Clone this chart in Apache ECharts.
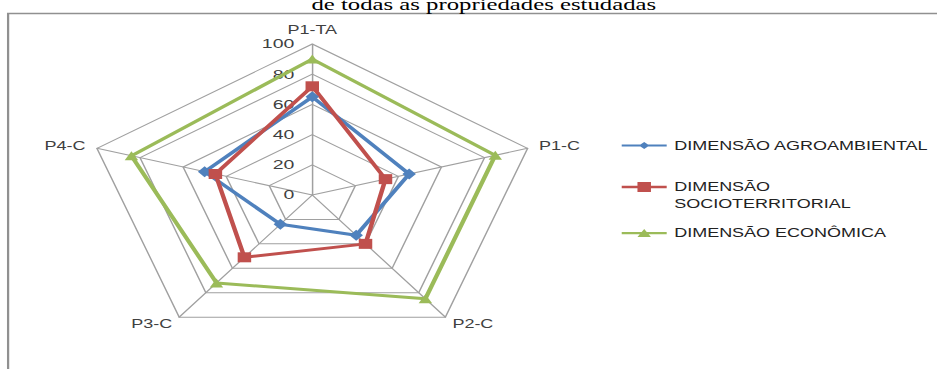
<!DOCTYPE html>
<html>
<head>
<meta charset="utf-8">
<script src="https://cdn.jsdelivr.net/npm/echarts@6/dist/echarts.min.js"></script>
<style>
html,body{margin:0;padding:0;background:#fff;overflow:hidden;}
#wrap{width:937px;height:369px;overflow:hidden;position:relative;background:#fff;}
#chart{width:625px;height:369px;transform:scaleX(1.4992);transform-origin:0 0;}
</style>
</head>
<body>
<div id="wrap"><div id="chart"></div></div>
<script>
// ---- data ----
const indicators = ['P1-TA', 'P1-C', 'P2-C', 'P3-C', 'P4-C'];
const tickValues = [0, 20, 40, 60, 80, 100];
const seriesNames = ['DIMENSÃO AGROAMBIENTAL', 'DIMENSÃO SOCIOTERRITORIAL', 'DIMENSÃO ECONÔMICA'];
const agroambiental = [65, 45, 33, 24, 50];
const socioterritorial = [72, 34, 40, 51, 45];
const economica = [90, 85, 85, 72, 84];
const titleText = 'de todas as propriedades estudadas';

// ECharts lays radar indicators out counter-clockwise; the reference runs clockwise.
const order = [0, 4, 3, 2, 1];
const reorder = arr => order.map(i => arr[i]);

// ---- styles ----
const colors = ['#4F81BD', '#C0504D', '#9BBB59'];
const font = 'Liberation Sans';
const gridColor = '#a0a0a0';

const chart = echarts.init(document.getElementById('chart'), null, {renderer: 'svg'});

const legendIcons = [
  'path://M0,2.5L30,2.5L30,4.5L0,4.5Z M15,0L18.5,3.5L15,7L11.5,3.5Z',
  'path://M0,3.75L30,3.75L30,6.25L0,6.25Z M10.5,0L19.5,0L19.5,10L10.5,10Z',
  'path://M0,3L30,3L30,5.2L0,5.2Z M15,0L19.5,8L10.5,8Z'
];
const legendHeights = [7, 10, 8];

const legendBase = {
  orient: 'vertical',
  left: 414.7,
  padding: 0,
  itemWidth: 30,
  selectedMode: false,
  symbolKeepAspect: false,
  textStyle: {fontFamily: font, fontSize: 12, color: '#222'}
};

const option = {
  animation: false,
  backgroundColor: '#fff',
  graphic: [
    {type: 'rect', silent: true, z: -1,
     shape: {x: 5.4, y: 13.5, width: 1000, height: 1000},
     style: {fill: 'none', stroke: '#909090', lineWidth: 1.5}},
    {type: 'text', silent: true,
     style: {text: titleText, x: 322.7, y: 5, align: 'center', verticalAlign: 'middle',
             fontFamily: 'Liberation Serif', fontSize: 16.5, fontWeight: 'normal', fill: '#000'}}
  ],
  legend: [
    Object.assign({}, legendBase, {top: 139.5, itemHeight: legendHeights[0],
      data: [{name: seriesNames[0], icon: legendIcons[0]}]}),
    Object.assign({}, legendBase, {top: 161.5, itemHeight: legendHeights[1],
      data: [{name: seriesNames[1], icon: legendIcons[1]}],
      formatter: n => ' \n' + n.replace(' ', '\n'),
      textStyle: {fontFamily: font, fontSize: 12, color: '#222', lineHeight: 17}}),
    Object.assign({}, legendBase, {top: 227, itemHeight: legendHeights[2],
      data: [{name: seriesNames[2], icon: legendIcons[2]}]})
  ],
  radar: {
    center: [208.3, 195],
    radius: 151,
    startAngle: 90,
    shape: 'polygon',
    splitNumber: tickValues.length - 1,
    nameGap: 8,
    indicator: reorder(indicators).map((n, i) => ({
      name: n, min: tickValues[0], max: tickValues[tickValues.length - 1],
      axisLabel: {show: i === 0}
    })),
    axisName: {color: '#404040', fontSize: 12, fontFamily: font},
    axisLine: {lineStyle: {color: gridColor, width: 1}},
    splitLine: {lineStyle: {color: gridColor, width: 1}},
    splitArea: {show: false},
    axisTick: {show: false},
    axisLabel: {show: false, color: '#404040', fontSize: 13, fontFamily: font, margin: 12}
  },
  series: [{
    type: 'radar',
    data: [
      {name: seriesNames[0], value: reorder(agroambiental), symbol: 'diamond', symbolSize: [9, 11],
       lineStyle: {color: colors[0], width: 3}, itemStyle: {color: colors[0]}},
      {name: seriesNames[1], value: reorder(socioterritorial), symbol: 'rect', symbolSize: [9, 10],
       lineStyle: {color: colors[1], width: 3}, itemStyle: {color: colors[1]}},
      {name: seriesNames[2], value: reorder(economica), symbol: 'triangle', symbolSize: [9, 9],
       lineStyle: {color: colors[2], width: 3}, itemStyle: {color: colors[2]}}
    ]
  }]
};
chart.setOption(option);
</script>
</body>
</html>
